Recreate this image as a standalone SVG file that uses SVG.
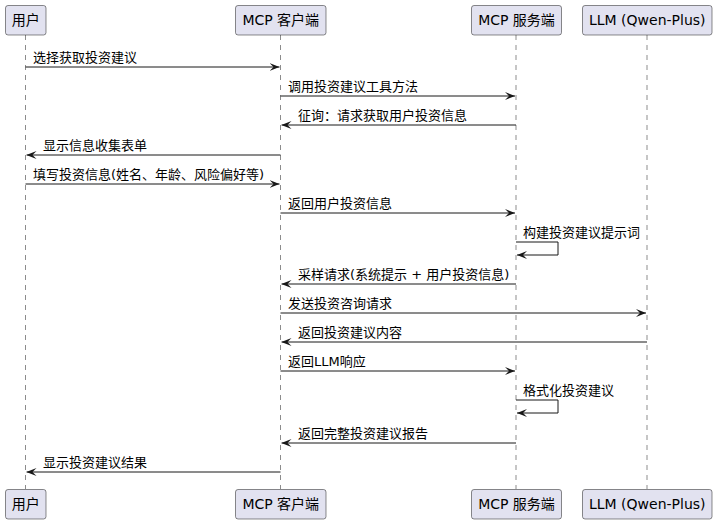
<svg xmlns="http://www.w3.org/2000/svg" width="717" height="524" viewBox="0 0 717 524">
<defs>
<style>
.box{fill:#E2E2F0;stroke:#181818;stroke-width:0.5}
.life{stroke:#181818;stroke-width:0.5;stroke-dasharray:5,5;fill:none}
.msg{stroke:#181818;stroke-width:1;fill:none}
.ptxt{font-family:"DejaVu Sans","Noto Sans CJK SC",sans-serif;font-size:14px;fill:#000;text-anchor:middle}
.mtxt{font-family:"DejaVu Sans","Noto Sans CJK SC",sans-serif;font-size:13px;fill:#000}
</style>
<marker id="ah" viewBox="0 0 10 8" refX="10" refY="4" markerWidth="10" markerHeight="8" markerUnits="userSpaceOnUse" orient="auto">
<polygon points="0,0 10,4 0,8 4,4" fill="#181818"/>
</marker>
</defs>
<rect width="717" height="524" fill="#fff"/>

<!-- lifelines -->
<g id="lifelines">
<line class="life" x1="25.5" y1="35" x2="25.5" y2="489"/>
<line class="life" x1="280.5" y1="35" x2="280.5" y2="489"/>
<line class="life" x1="516" y1="35" x2="516" y2="489"/>
<line class="life" x1="647" y1="35" x2="647" y2="489"/>
</g>

<!-- participants -->
<g id="user">
<rect class="box" x="5.5" y="5.5" width="40.5" height="29.5" rx="2.5"/>
<text class="ptxt" x="25.75" y="25">用户</text>
<rect class="box" x="5.5" y="489.5" width="40.5" height="29.5" rx="2.5"/>
<text class="ptxt" x="25.75" y="509">用户</text>
</g>
<g id="client">
<rect class="box" x="235.5" y="5.5" width="90.5" height="29.5" rx="2.5"/>
<text class="ptxt" x="280.75" y="25">MCP 客户端</text>
<rect class="box" x="235.5" y="489.5" width="90.5" height="29.5" rx="2.5"/>
<text class="ptxt" x="280.75" y="509">MCP 客户端</text>
</g>
<g id="server">
<rect class="box" x="471.5" y="5.5" width="90" height="29.5" rx="2.5"/>
<text class="ptxt" x="516.5" y="25">MCP 服务端</text>
<rect class="box" x="471.5" y="489.5" width="90" height="29.5" rx="2.5"/>
<text class="ptxt" x="516.5" y="509">MCP 服务端</text>
</g>
<g id="llm">
<rect class="box" x="582.5" y="5.5" width="129.5" height="29.5" rx="2.5"/>
<text class="ptxt" x="647.25" y="25">LLM (Qwen-Plus)</text>
<rect class="box" x="582.5" y="489.5" width="129.5" height="29.5" rx="2.5"/>
<text class="ptxt" x="647.25" y="509">LLM (Qwen-Plus)</text>
</g>

<!-- messages -->
<g id="connectors">
<line class="msg" marker-end="url(#ah)" x1="25.5" y1="67" x2="279.5" y2="67"/>
<text class="mtxt" x="33" y="62">选择获取投资建议</text>

<line class="msg" marker-end="url(#ah)" x1="280.5" y1="96" x2="515" y2="96"/>
<text class="mtxt" x="288" y="91">调用投资建议工具方法</text>

<line class="msg" marker-end="url(#ah)" x1="516" y1="125" x2="281.5" y2="125"/>
<text class="mtxt" x="298" y="120">征询：请求获取用户投资信息</text>

<line class="msg" marker-end="url(#ah)" x1="280.5" y1="155" x2="26.5" y2="155"/>
<text class="mtxt" x="43" y="150">显示信息收集表单</text>

<line class="msg" marker-end="url(#ah)" x1="25.5" y1="184" x2="279.5" y2="184"/>
<text class="mtxt" x="33" y="179">填写投资信息(姓名、年龄、风险偏好等)</text>

<line class="msg" marker-end="url(#ah)" x1="280.5" y1="213" x2="515" y2="213"/>
<text class="mtxt" x="288" y="208">返回用户投资信息</text>

<polyline class="msg" marker-end="url(#ah)" points="516,242 558,242 558,255 517,255"/>
<text class="mtxt" x="523" y="237">构建投资建议提示词</text>

<line class="msg" marker-end="url(#ah)" x1="516" y1="284" x2="281.5" y2="284"/>
<text class="mtxt" x="298" y="279">采样请求(系统提示 + 用户投资信息)</text>

<line class="msg" marker-end="url(#ah)" x1="280.5" y1="313" x2="646" y2="313"/>
<text class="mtxt" x="288" y="308">发送投资咨询请求</text>

<line class="msg" marker-end="url(#ah)" x1="647" y1="342" x2="281.5" y2="342"/>
<text class="mtxt" x="298" y="337">返回投资建议内容</text>

<line class="msg" marker-end="url(#ah)" x1="280.5" y1="371" x2="515" y2="371"/>
<text class="mtxt" x="288" y="366">返回LLM响应</text>

<polyline class="msg" marker-end="url(#ah)" points="516,400 558,400 558,413 517,413"/>
<text class="mtxt" x="523" y="395">格式化投资建议</text>

<line class="msg" marker-end="url(#ah)" x1="516" y1="443" x2="281.5" y2="443"/>
<text class="mtxt" x="298" y="438">返回完整投资建议报告</text>

<line class="msg" marker-end="url(#ah)" x1="280.5" y1="472" x2="26.5" y2="472"/>
<text class="mtxt" x="43" y="467">显示投资建议结果</text>
</g>
</svg>
